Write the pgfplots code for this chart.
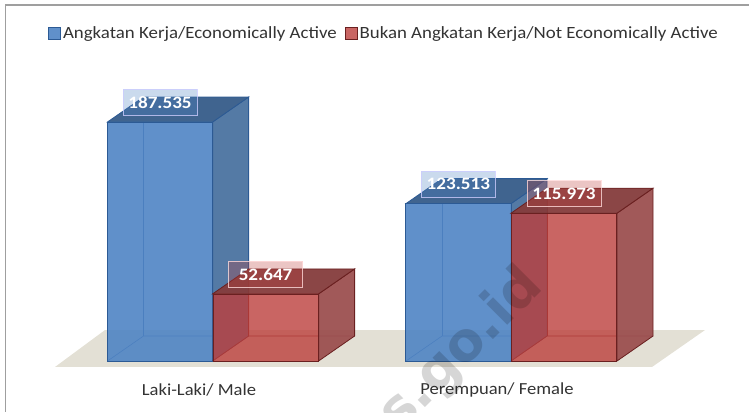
\documentclass[border=0pt]{standalone}
\usepackage{fontspec}
\setmainfont[FakeStretch=1.1]{Carlito}
\newfontfamily\wmfont{DejaVu Sans}
\usepackage{pgfplots}
\pgfplotsset{compat=1.18}
\definecolor{bluefront}{HTML}{4F84C4}
\definecolor{blueside}{HTML}{547AA5}
\definecolor{bluetop}{HTML}{40648F}
\definecolor{blueedge}{HTML}{2C5A94}
\definecolor{redfront}{HTML}{BC3F3C}
\definecolor{redside}{HTML}{9C5050}
\definecolor{redtop}{HTML}{853C3C}
\definecolor{rededge}{HTML}{6A2020}
\definecolor{floorcol}{HTML}{E3E0D5}
\begin{document}
\begin{tikzpicture}
\begin{axis}[
    scale only axis, width=749pt, height=412pt,
    xmin=0, xmax=749, ymin=-40.02, ymax=283.27,
    axis line style={draw=none},
    tick style={draw=none},
    ytick=\empty,
    xtick={199,497},
    xticklabels={Laki-Laki/ Male, Perempuan/ Female},
    xticklabel style={font=\fontsize{16.9}{17}\selectfont, color=black!80, anchor=center, yshift=22pt},
    legend columns=2,
    legend style={draw=none, fill=none, at={(axis cs:384,257)}, anchor=center,
        font=\fontsize{17.15}{17}\selectfont, text=black!80,
        /tikz/every even column/.append style={column sep=6pt}},
    legend image code/.code={\draw[#1] (0pt,-6pt) rectangle (12pt,6pt);},
    bar width=105.3,
    /pgf/number format/fixed,
    /pgf/number format/fixed zerofill,
    /pgf/number format/precision=3,
    /pgf/number format/assume math mode=true,
    every node near coord/.append style={
        anchor=center, yshift=19.5pt, font=\bfseries\fontsize{17.4}{17}\selectfont,
        text=white, fill opacity=0.3, text opacity=1, draw opacity=0.8,
        minimum width=74pt, minimum height=26pt, inner sep=0pt},
]
% frame and floor
\addplot[forget plot, draw=gray!75, line width=1.2pt] coordinates {(5.5,-40) (5.5,279.3) (749,279.3)};
\addplot[forget plot, fill=floorcol, draw=none] coordinates {(55,-4.7) (652,-4.7) (705,24.3) (105,24.3)} --cycle;

% male, active
\addplot[forget plot, draw=blueedge, line width=0.6pt] coordinates {(107.5,0) (143.5,19.6) (248.6,19.6)};
\addplot[forget plot, draw=blueedge, line width=0.6pt] coordinates {(143.5,19.6) (143.5,207.135)};
\addplot[forget plot, fill=blueside, draw=blueedge, line width=0.8pt] coordinates {(212.6,0) (248.6,19.6) (248.6,207.135) (212.6,187.535)} --cycle;
\addplot[forget plot, fill=bluetop, draw=blueedge, line width=0.8pt] coordinates {(107.5,187.535) (143.5,207.135) (248.6,207.135) (212.6,187.535)} --cycle;
% female, active
\addplot[forget plot, draw=blueedge, line width=0.6pt] coordinates {(406,0) (442,19.6) (547,19.6)};
\addplot[forget plot, draw=blueedge, line width=0.6pt] coordinates {(442,19.6) (442,143.113)};
\addplot[forget plot, fill=blueside, draw=blueedge, line width=0.8pt] coordinates {(511,0) (547,19.6) (547,143.113) (511,123.513)} --cycle;
\addplot[forget plot, fill=bluetop, draw=blueedge, line width=0.8pt] coordinates {(406,123.513) (442,143.113) (547,143.113) (511,123.513)} --cycle;
% fronts, active
\addplot[ybar, bar shift=-52.6, fill=bluefront, fill opacity=0.9, draw=blueedge, line width=0.8pt] coordinates {(212.6,187.535) (511,123.513)};
\addlegendentry{Angkatan Kerja/Economically Active}

% male, not active
\addplot[forget plot, draw=rededge, line width=0.6pt] coordinates {(212.6,0) (248.6,19.6) (354.6,19.6)};
\addplot[forget plot, draw=rededge, line width=0.6pt] coordinates {(248.6,19.6) (248.6,72.247)};
\addplot[forget plot, fill=redside, fill opacity=0.95, draw=rededge, line width=0.8pt] coordinates {(318.6,0) (354.6,19.6) (354.6,72.247) (318.6,52.647)} --cycle;
\addplot[forget plot, fill=redtop, fill opacity=0.95, draw=rededge, line width=0.8pt] coordinates {(212.6,52.647) (248.6,72.247) (354.6,72.247) (318.6,52.647)} --cycle;
% female, not active
\addplot[forget plot, draw=rededge, line width=0.6pt] coordinates {(511,0) (547,19.6) (653,19.6)};
\addplot[forget plot, draw=rededge, line width=0.6pt] coordinates {(547,19.6) (547,135.573)};
\addplot[forget plot, fill=redside, fill opacity=0.95, draw=rededge, line width=0.8pt] coordinates {(617,0) (653,19.6) (653,135.573) (617,115.973)} --cycle;
\addplot[forget plot, fill=redtop, fill opacity=0.95, draw=rededge, line width=0.8pt] coordinates {(511,115.973) (547,135.573) (653,135.573) (617,115.973)} --cycle;
% fronts, not active
\addplot[ybar, bar shift=53, fill=redfront, fill opacity=0.8, draw=rededge, line width=0.8pt] coordinates {(212.6,52.647) (511,115.973)};
\addlegendentry{Bukan Angkatan Kerja/Not Economically Active}

% watermark
\node[overlay, rotate=45, anchor=base east, inner sep=0pt, font=\wmfont\bfseries\fontsize{54}{54}\selectfont, text=black, text opacity=0.16] at (axis cs:545,57.3) {bps.go.id};

% value labels on top of everything
\addplot[forget plot, ybar, draw=none, fill=none, nodes near coords,
    every node near coord/.append style={fill=bluefront, draw=blue!20!white}] coordinates {(160,187.535) (458.4,123.513)};
\addplot[forget plot, ybar, draw=none, fill=none, nodes near coords,
    every node near coord/.append style={fill=redfront, draw=red!15!white}] coordinates {(265.6,52.647) (564,115.973)};
\end{axis}
\end{tikzpicture}
\end{document}
